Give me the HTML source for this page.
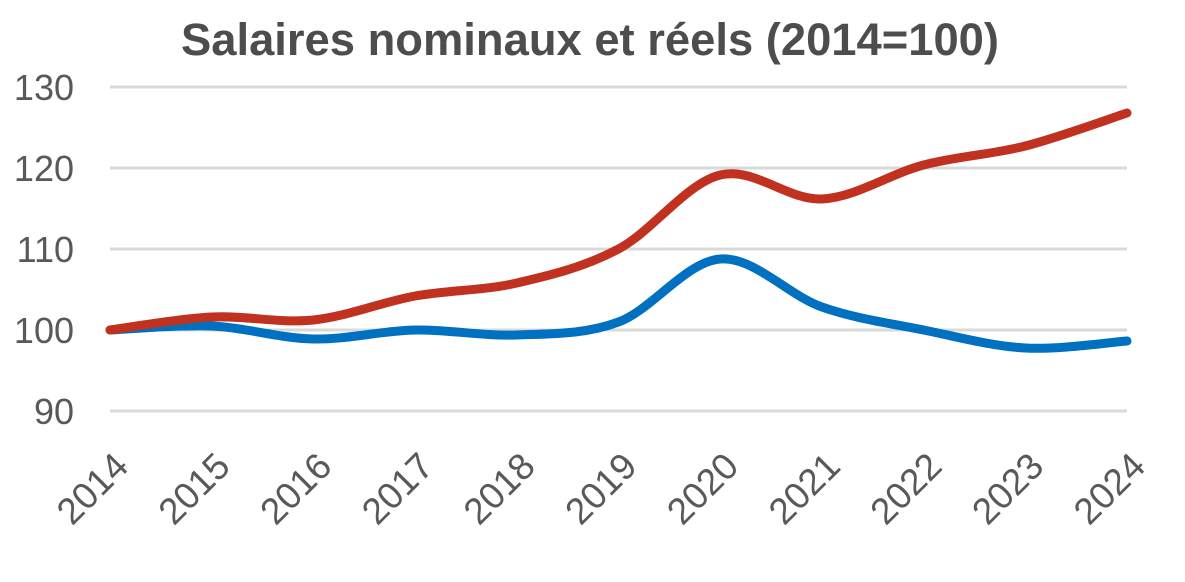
<!DOCTYPE html>
<html><head><meta charset="utf-8"><style>
body{margin:0;background:#fff;width:1185px;height:577px;overflow:hidden}
svg text{font-family:"Liberation Sans",sans-serif}
</style></head><body>
<svg id="s" width="1185" height="577" xmlns="http://www.w3.org/2000/svg">
<text x="590" y="55" text-anchor="middle" font-size="45" font-weight="bold" fill="#4d4d4d" textLength="818" lengthAdjust="spacingAndGlyphs">Salaires nominaux et réels (2014=100)</text>
<g stroke="#d9d9d9" stroke-width="3">
<line x1="110" x2="1127" y1="87" y2="87"/><line x1="110" x2="1127" y1="168" y2="168"/><line x1="110" x2="1127" y1="249" y2="249"/><line x1="110" x2="1127" y1="330" y2="330"/><line x1="110" x2="1127" y1="411" y2="411"/>
</g>
<g font-size="36" fill="#595959" text-anchor="end">
<text x="74" y="100">130</text><text x="74" y="181">120</text><text x="74" y="262">110</text><text x="74" y="343">100</text><text x="74" y="424">90</text>
</g>
<g id="xl" font-size="37" fill="#595959" text-anchor="end"></g>
<path id="b" fill="none" stroke="#0070c0" stroke-width="9" stroke-linecap="round"/>
<path id="r" fill="none" stroke="#c0311f" stroke-width="9" stroke-linecap="round"/>
</svg>
<script>
var x0=110,dx=101.7;
function path(ys){var p=ys.map(function(y,i){return[x0+i*dx,y]});var d="M"+p[0][0]+","+p[0][1];
for(var i=0;i<p.length-1;i++){var a=p[i-1]||p[i],b=p[i],c=p[i+1],e=p[i+2]||c;
d+=" C"+(b[0]+(c[0]-a[0])/6)+","+(b[1]+(c[1]-a[1])/6)+" "+(c[0]-(e[0]-b[0])/6)+","+(c[1]-(e[1]-b[1])/6)+" "+c[0]+","+c[1];}return d;}
document.getElementById("r").setAttribute("d",path([330,317,320,296,283,249,175,199,165,146,113]));
document.getElementById("b").setAttribute("d",path([330,326,339,330,335,322,259,307,330,348,341]));
var g=document.getElementById("xl"),h="";
for(var i=0;i<11;i++){var x=x0+i*dx+2,y=450;h+='<text x="'+x+'" y="'+y+'" transform="rotate(-45 '+x+' '+y+')" dy="26">'+(2014+i)+'</text>';}
g.innerHTML=h;
</script>
</body></html>
